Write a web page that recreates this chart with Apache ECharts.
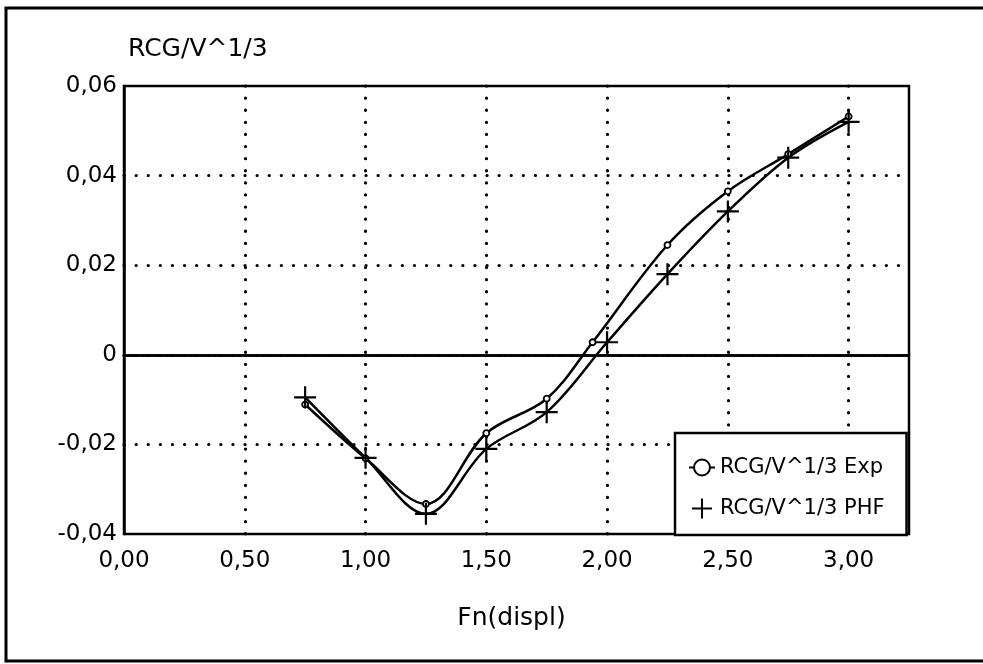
<!DOCTYPE html>
<html>
<head>
<meta charset="utf-8">
<script src="https://cdn.jsdelivr.net/npm/echarts@6/dist/echarts.min.js"></script>
<style>
html,body{margin:0;padding:0;background:#fff;}
#chart{width:983px;height:664px;}
</style>
</head>
<body>
<div id="chart"></div>
<script>
// Data
const expX = [0.75, 1.00, 1.25, 1.50, 1.75, 1.94, 2.25, 2.50, 2.75, 3.00];
const expY = [-0.0111, -0.0231, -0.0333, -0.0175, -0.0098, 0.0028, 0.0245, 0.0365, 0.0448, 0.0532];
const phfX = [0.75, 1.00, 1.25, 1.50, 1.75, 2.00, 2.25, 2.50, 2.75, 3.00];
const phfY = [-0.0095, -0.0230, -0.0355, -0.0210, -0.0128, 0.0028, 0.0180, 0.0320, 0.0440, 0.0520];
const seriesNames = ['RCG/V^1/3 Exp', 'RCG/V^1/3 PHF'];
const yAxisTitle = 'RCG/V^1/3';
const xAxisTitle = 'Fn(displ)';

const FONT = 'DejaVu Sans';
const plusPath = 'path://M9,0H11V9H20V11H11V20H9V11H0V9H9Z';
const fmt2 = v => v.toFixed(2).replace('.', ',');
const pair = (xs, ys) => xs.map((x, i) => [x, ys[i]]);

const chart = echarts.init(document.getElementById('chart'), null, {renderer: 'canvas'});
chart.setOption({
  backgroundColor: '#ffffff',
  animation: false,
  grid: {left: 124, top: 86, right: 74, bottom: 130, show: true, borderColor: '#000', borderWidth: 2.5, backgroundColor: 'transparent'},
  graphic: [{
    type: 'rect', shape: {x: 6, y: 8, width: 1000, height: 653},
    style: {fill: 'none', stroke: '#000', lineWidth: 3}, silent: true, z: 0
  }],
  legend: {
    orient: 'vertical', left: 675, top: 433,
    backgroundColor: '#fff', borderColor: '#000', borderWidth: 2.5,
    padding: [24, 22, 16, 13], itemGap: 20, itemWidth: 26, itemHeight: 20,
    textStyle: {fontFamily: FONT, fontSize: 21, color: '#000'},
    data: [
      {name: seriesNames[0]},
      {name: seriesNames[1], icon: plusPath}
    ]
  },
  xAxis: {
    type: 'value', min: 0, max: 3.25, interval: 0.5,
    name: xAxisTitle, nameLocation: 'middle', nameGap: 72,
    nameTextStyle: {fontFamily: FONT, fontSize: 25, color: '#000', padding: [0, 10, 0, 0]},
    axisLine: {lineStyle: {color: '#000', width: 2.5}},
    axisTick: {show: false},
    axisLabel: {fontFamily: FONT, fontSize: 23, color: '#000', margin: 16, showMaxLabel: false, formatter: v => fmt2(v)},
    splitLine: {show: true, showMinLine: false, showMaxLine: false, lineStyle: {color: '#000', width: 3.2, type: [0.1, 12], cap: 'round'}}
  },
  yAxis: {
    type: 'value', min: -0.04, max: 0.06, interval: 0.02,
    name: yAxisTitle, nameLocation: 'end', nameGap: 24,
    nameTextStyle: {fontFamily: FONT, fontSize: 25, color: '#000', align: 'left', verticalAlign: 'bottom', padding: [0, 0, 0, 4]},
    axisLine: {show: true, lineStyle: {color: '#000', width: 2.5}},
    axisTick: {show: false},
    axisLabel: {fontFamily: FONT, fontSize: 23, color: '#000', margin: 7, formatter: v => (Math.abs(v) < 1e-9 ? '0' : fmt2(v))},
    splitLine: {show: true, showMinLine: false, showMaxLine: false, lineStyle: {color: '#000', width: 3.2, type: [0.1, 12], cap: 'round'}}
  },
  series: [
    {
      name: seriesNames[0], type: 'line', smooth: 0.35,
      data: pair(expX, expY),
      symbol: 'circle', symbolSize: 6, showAllSymbol: true,
      lineStyle: {color: '#000', width: 2.5},
      itemStyle: {color: '#fff', borderColor: '#000', borderWidth: 1.8},
      markLine: {
        silent: true, symbol: 'none', label: {show: false},
        lineStyle: {color: '#000', width: 2.5, type: 'solid'},
        data: [{yAxis: 0}]
      },
      z: 3
    },
    {
      name: seriesNames[1], type: 'line', smooth: 0.35,
      data: pair(phfX, phfY),
      symbol: plusPath, symbolSize: 22, showAllSymbol: true,
      lineStyle: {color: '#000', width: 2.5},
      itemStyle: {color: '#000', borderWidth: 0},
      z: 3
    }
  ]
});
</script>
</body>
</html>
